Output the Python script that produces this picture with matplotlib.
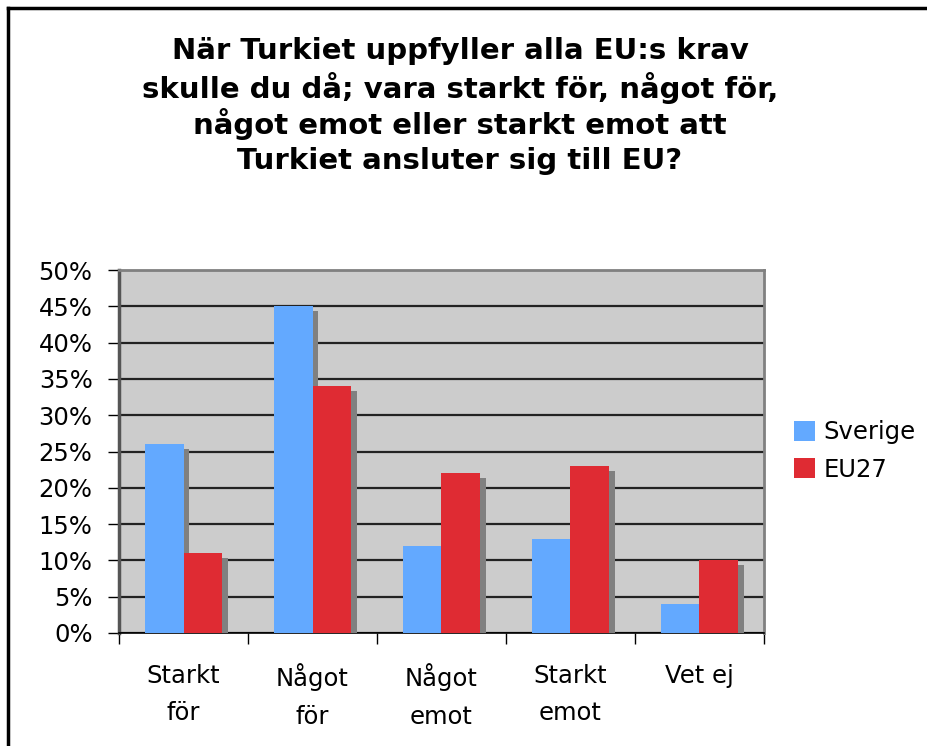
import matplotlib
matplotlib.use("Agg")
import matplotlib.pyplot as plt
import matplotlib.patheffects as pe
from matplotlib.lines import Line2D
from matplotlib.patches import Patch
import numpy as np

categories = ["Starkt\nför", "Något\nför", "Något\nemot", "Starkt\nemot", "Vet ej"]
sverige = [26, 45, 12, 13, 4]
eu27 = [11, 34, 22, 23, 10]
series_names = ["Sverige", "EU27"]
title_lines = ["När Turkiet uppfyller alla EU:s krav",
               "skulle du då; vara starkt för, något för,",
               "något emot eller starkt emot att",
               "Turkiet ansluter sig till EU?"]

blue = "#63a9ff"
red = "#df2b33"

plt.rcParams['font.family'] = ['DejaVu Sans']

fig = plt.figure(figsize=(9.28, 7.46), dpi=100)
ax = fig.add_axes([119 / 928, 1 - 633 / 746, 645 / 928, 363 / 746])
ax.set_facecolor("#cccccc")

x = np.arange(len(categories))
w = 0.295
shadow = [pe.SimplePatchShadow(offset=(4.3, -3.6), shadow_rgbFace="#808080", alpha=1.0), pe.Normal()]
b1 = ax.bar(x - w / 2, sverige, w, color=blue, zorder=3)
b2 = ax.bar(x + w / 2, eu27, w, color=red, zorder=3)
for bars in (b1, b2):
    for b in bars:
        b.set_path_effects(shadow)

ax.set_xlim(-0.5, len(categories) - 0.5)
ax.set_ylim(0, 50)
ax.set_yticks(np.arange(0, 51, 5))
ax.set_yticklabels([f"{v}%" for v in range(0, 51, 5)], fontsize=17.5)
ax.yaxis.grid(True, color="#222222", linewidth=1.6, zorder=1)
ax.set_axisbelow(True)
ax.tick_params(axis="y", direction="out", length=8, width=1, pad=11, colors="black")

ax.set_xticks(x)
ax.set_xticklabels(categories, fontsize=17.5, linespacing=1.72)
ax.tick_params(axis="x", which="major", length=0, pad=22)
ax.set_xticks(np.arange(-0.5, len(categories), 1), minor=True)
ax.tick_params(axis="x", which="minor", direction="out", length=8, width=1)

ax.spines["left"].set_color("#555555")
ax.spines["left"].set_linewidth(2.5)
ax.spines["top"].set_color("#808080")
ax.spines["top"].set_linewidth(2)
ax.spines["right"].set_color("#808080")
ax.spines["right"].set_linewidth(2)
ax.spines["bottom"].set_color("black")
ax.spines["bottom"].set_linewidth(1.2)

handles = [Patch(facecolor=blue), Patch(facecolor=red)]
fig.legend(handles, series_names, loc="center left", bbox_to_anchor=(794 / 928, 1 - 451 / 746),
           frameon=False, fontsize=17.5, handlelength=0.87, handleheight=0.87,
           handletextpad=0.33, labelspacing=0.55, borderpad=0, borderaxespad=0)

# title, one line at a time so the spacing matches
for i, line in enumerate(title_lines):
    fig.text(460 / 928, 1 - (48 + 36.7 * i) / 746, line, ha="center", va="center_baseline",
             fontsize=21, fontweight="bold")

# chart frame: only top and left edges fall inside the image
fig.add_artist(Line2D([8 / 928, 8 / 928], [0, 1 - 8 / 746], transform=fig.transFigure,
                      color="black", linewidth=2.5))
fig.add_artist(Line2D([8 / 928, 1], [1 - 8 / 746, 1 - 8 / 746], transform=fig.transFigure,
                      color="black", linewidth=2.5))

fig.savefig("out.png", dpi=100)
